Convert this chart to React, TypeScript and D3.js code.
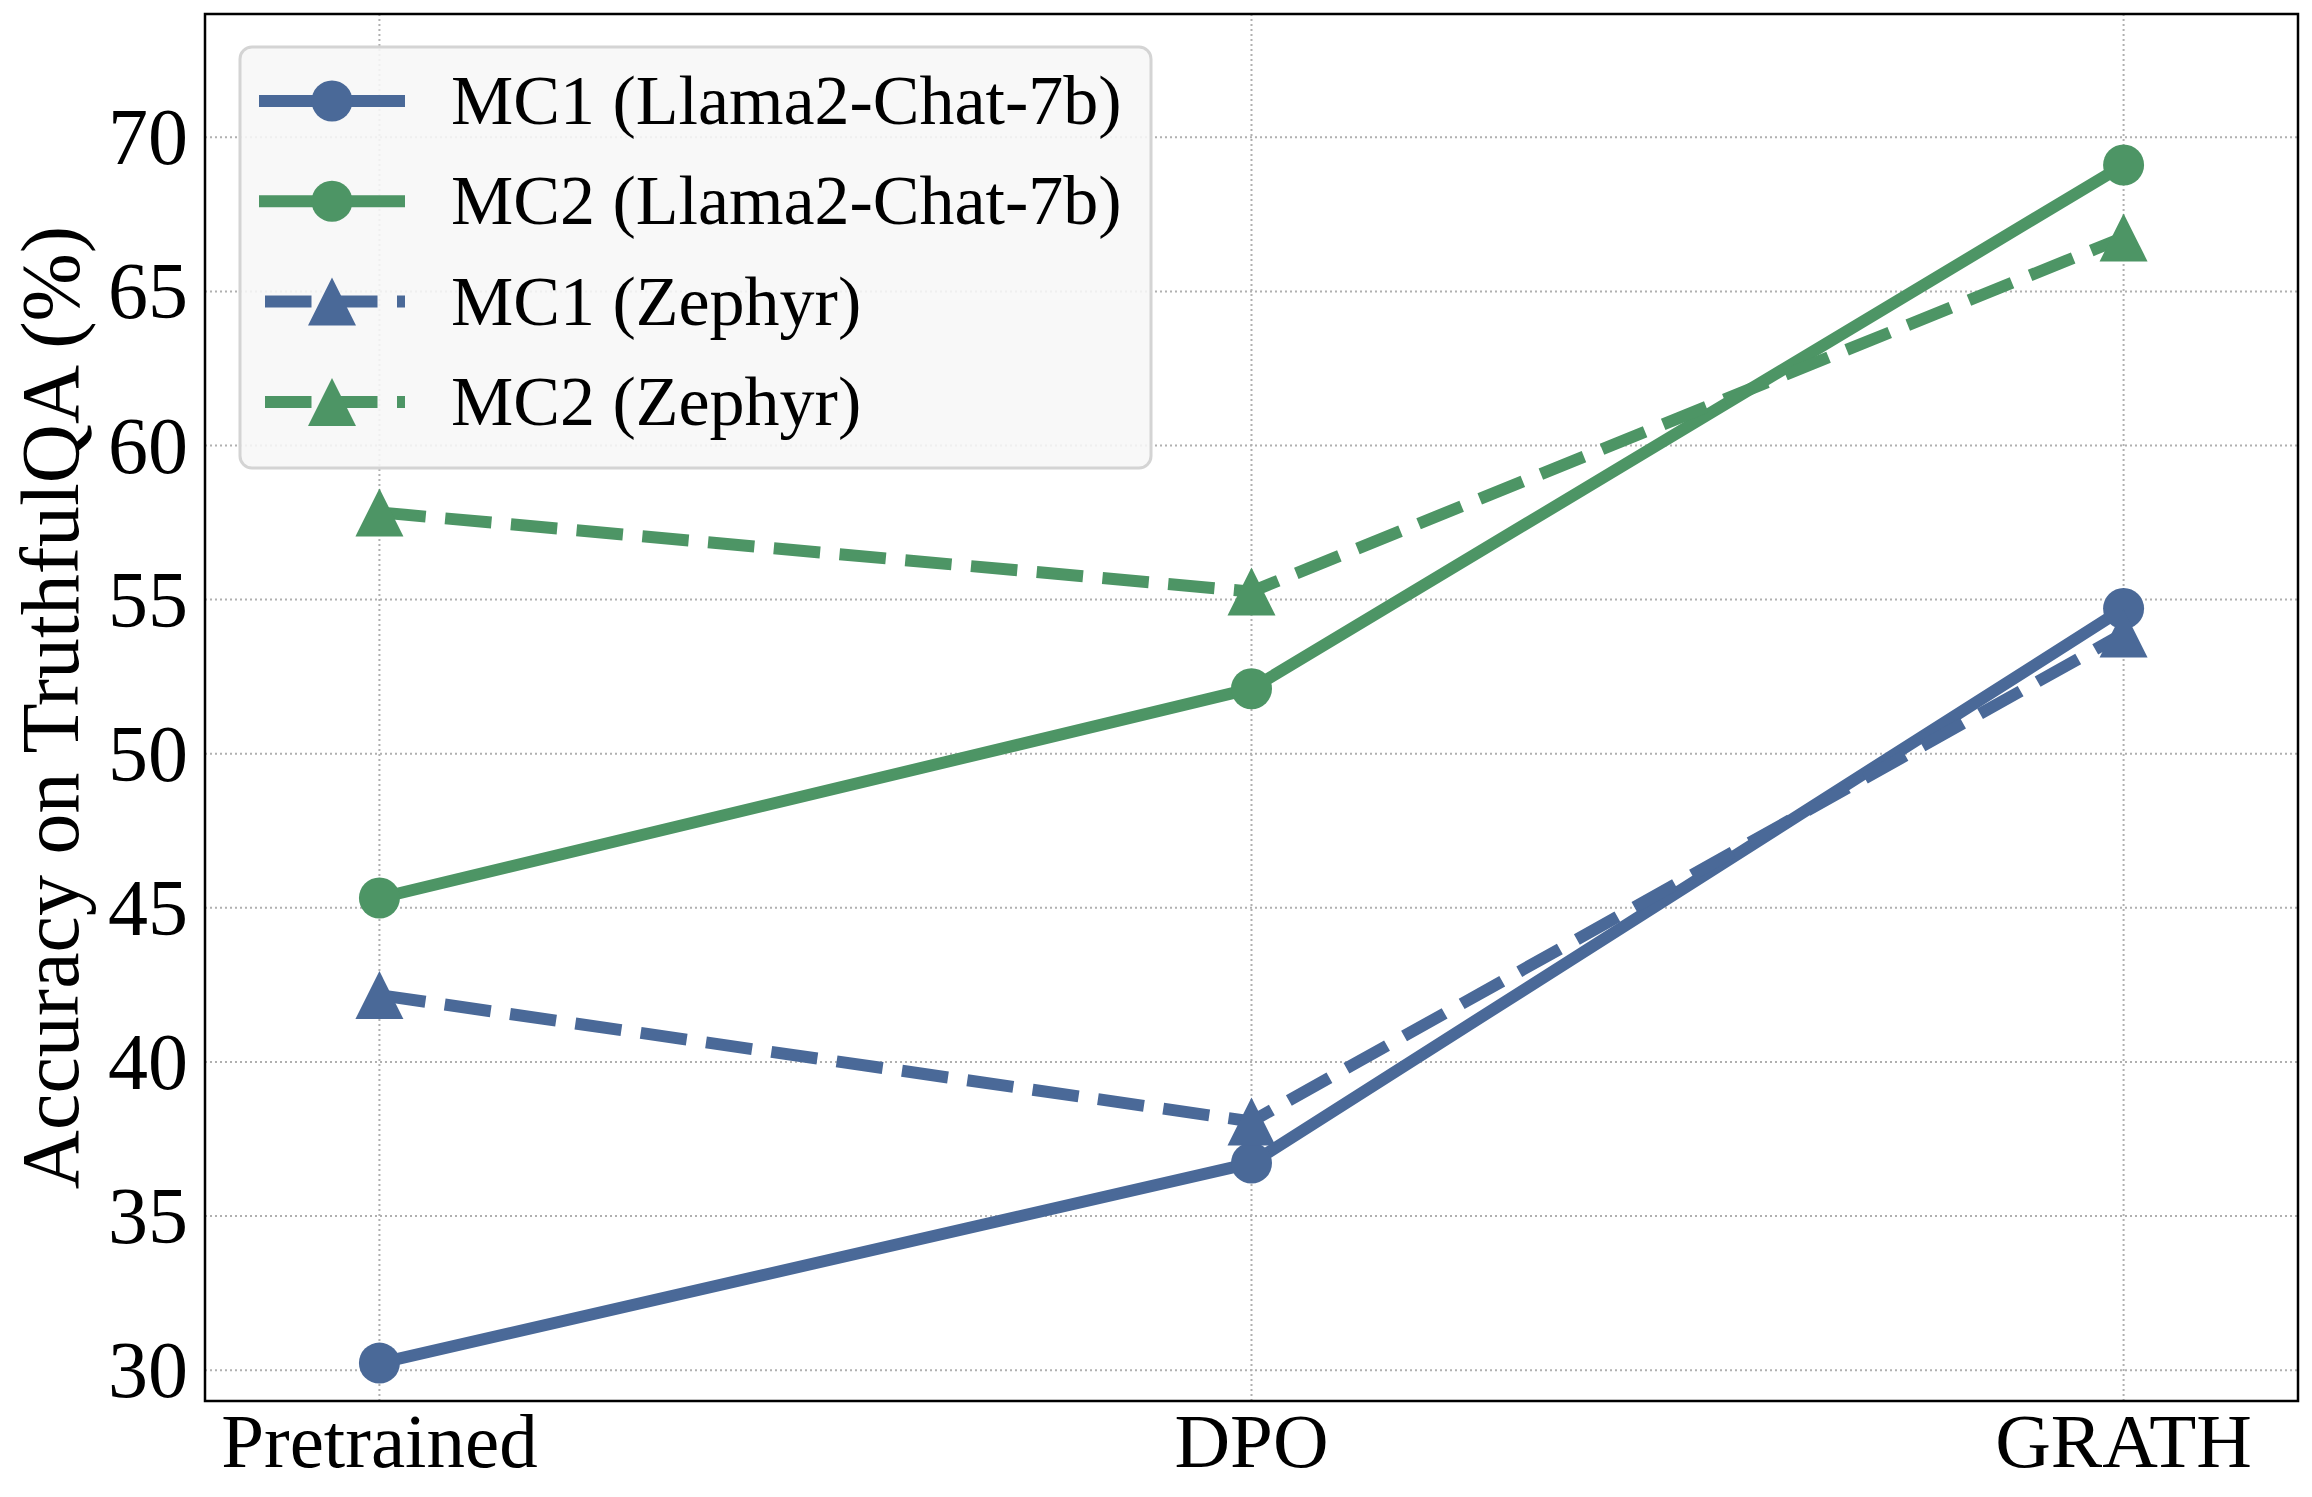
import React from 'react';
import * as d3 from 'd3';

const stages = ['Pretrained', 'DPO', 'GRATH'];
const mc1Llama = [30.23, 36.72, 54.71];
const mc2Llama = [45.32, 52.11, 69.1];
const mc1Zephyr = [42.17, 38.07, 53.9];
const mc2Zephyr = [57.83, 55.26, 66.75];
const yTicks = [30, 35, 40, 45, 50, 55, 60, 65, 70];

const BLUE = '#4a6998';
const GREEN = '#4d9565';

interface Series {
  label: string;
  values: number[];
  color: string;
  dashed: boolean;
  marker: 'circle' | 'triangle';
}

const series: Series[] = [
  { label: 'MC1 (Llama2-Chat-7b)', values: mc1Llama, color: BLUE, dashed: false, marker: 'circle' },
  { label: 'MC2 (Llama2-Chat-7b)', values: mc2Llama, color: GREEN, dashed: false, marker: 'circle' },
  { label: 'MC1 (Zephyr)', values: mc1Zephyr, color: BLUE, dashed: true, marker: 'triangle' },
  { label: 'MC2 (Zephyr)', values: mc2Zephyr, color: GREEN, dashed: true, marker: 'triangle' },
];

const W = 2312;
const H = 1497;
const left = 205, right = 2298, top = 14, bottom = 1401;
const FONT = '"Liberation Serif", "DejaVu Serif", serif';
const DASH = '46.5 19.5';

const triPath = (cx: number, cy: number, s = 48) =>
  `M${cx},${cy - s / 2}L${cx - s / 2},${cy + s / 2}L${cx + s / 2},${cy + s / 2}Z`;

const Marker: React.FC<{ kind: 'circle' | 'triangle'; x: number; y: number; color: string }> = ({ kind, x, y, color }) =>
  kind === 'circle'
    ? <circle cx={x} cy={y} r={20.5} fill={color} />
    : <path d={triPath(x, y)} fill={color} />;

export default function App() {
  const x = d3.scaleLinear().domain([-0.2, 2.2]).range([left, right]);
  const y = d3.scaleLinear().domain([29, 74]).range([bottom, top]);

  const line = d3.line<number>()
    .x((_, i) => x(i))
    .y(d => y(d));

  return (
    <svg width={W} height={H} style={{ position: 'absolute', left: 0, top: 0, background: '#fff' }}
      fontFamily={FONT}>
      <rect x={0} y={0} width={W} height={H} fill="#fff" />

      {/* grid */}
      <g stroke="#b0b0b0" strokeWidth={2} strokeDasharray="2 3">
        {yTicks.map(t => (
          <line key={'h' + t} x1={left} x2={right} y1={y(t)} y2={y(t)} />
        ))}
        {stages.map((s, i) => (
          <line key={'v' + s} x1={x(i)} x2={x(i)} y1={top} y2={bottom} />
        ))}
      </g>

      {/* series */}
      {series.map(s => (
        <g key={s.label}>
          <path d={line(s.values) || ''} fill="none" stroke={s.color} strokeWidth={12}
            strokeLinejoin="round" strokeDasharray={s.dashed ? DASH : undefined} />
          {s.values.map((v, i) => (
            <Marker key={i} kind={s.marker} x={x(i)} y={y(v)} color={s.color} />
          ))}
        </g>
      ))}

      {/* frame */}
      <rect x={left} y={top} width={right - left} height={bottom - top} fill="none" stroke="#000" strokeWidth={2.5} />

      {/* y ticks */}
      {yTicks.map(t => (
        <text key={t} x={188} y={y(t) + 27} fontSize={80} textAnchor="end" fill="#000">{t}</text>
      ))}

      {/* x ticks */}
      {stages.map((s, i) => (
        <text key={s} x={x(i)} y={1467} fontSize={77} textAnchor="middle" fill="#000">{s}</text>
      ))}

      {/* y label */}
      <text transform={`translate(78, ${(top + bottom) / 2}) rotate(-90)`} fontSize={82} textAnchor="middle" fill="#000">
        Accuracy on TruthfulQA (%)
      </text>

      {/* legend */}
      <g>
        <rect x={240} y={47} width={911} height={421} rx={12} fill="#f7f7f7" fillOpacity={0.88}
          stroke="#d4d4d4" strokeWidth={3} />
        {series.map((s, i) => {
          const cy = 101 + i * 100.3;
          return (
            <g key={s.label}>
              <line x1={259} x2={405} y1={cy} y2={cy} stroke={s.color} strokeWidth={12}
                strokeDasharray={s.dashed ? DASH : undefined} strokeDashoffset={s.dashed ? 60 : undefined} />
              <Marker kind={s.marker} x={332} y={cy} color={s.color} />
              <text x={451} y={cy + 23} fontSize={70} fill="#000">{s.label}</text>
            </g>
          );
        })}
      </g>
    </svg>
  );
}
